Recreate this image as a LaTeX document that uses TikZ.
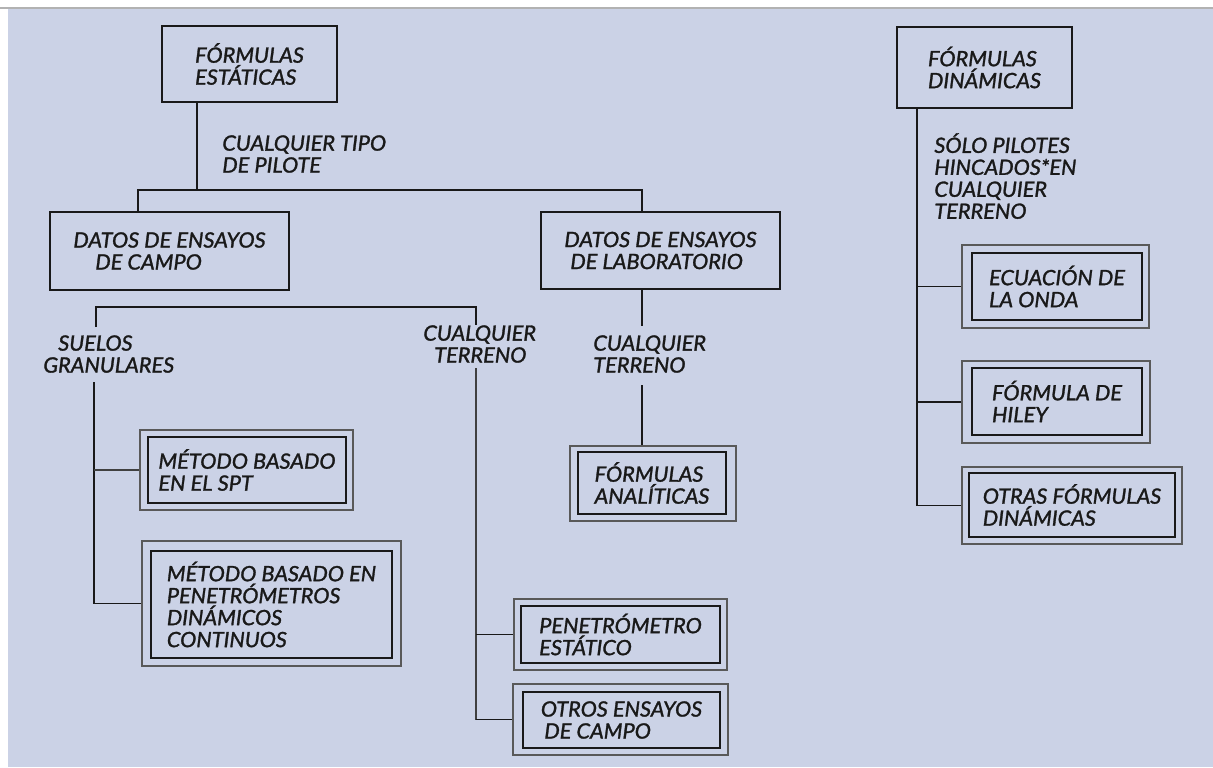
\documentclass[tikz,border=0pt]{standalone}
\usepackage{fontspec}
\setmainfont{Lato}[ItalicFeatures={FakeBold=1.4,FakeStretch=1.03}]
\definecolor{bg}{RGB}{203,210,230}
\def\px{0.02cm}
\newcommand\boxat[7]{\node[#1, minimum width={(#5-#3)*\px}, minimum height={(#6-#4)*\px}] (#2) at ({(#3+#5)/2},{(#4+#6)/2}) {#7};}
\begin{document}
\begin{tikzpicture}[x=0.02cm,y=-0.02cm,
  every node/.style={font=\itshape\fontsize{12}{12.5}\selectfont, align=left, inner sep=0pt, text=black!90},
  sbox/.style={draw=black!90, line width=1.4pt},
  ibox/.style={draw=black!90, line width=1.4pt},
  obox/.style={draw=black!65, line width=0.6pt},
  conn/.style={draw=black!90, line width=1.1pt},
  thinconn/.style={draw=black!75, line width=0.6pt},
  lbl/.style={anchor=north west}]
\useasboundingbox (0,0) rectangle (1213,767);
\fill[white] (0,0) rectangle (1213,767);
\fill[bg] (8,8) rectangle (1213,767);
\draw[black!30, line width=1.2pt] (0,8) -- (1213,8);

% single boxes
\boxat{sbox}{est}{162}{26}{337}{102}{FÓRMULAS\\ESTÁTICAS}
\boxat{sbox}{din}{897}{27}{1072}{108}{FÓRMULAS\\DINÁMICAS}
\boxat{sbox}{campo}{50}{212}{289}{290}{DATOS DE ENSAYOS\\\hspace{12.5pt}DE CAMPO}
\boxat{sbox}{lab}{541}{212}{780}{289}{DATOS DE ENSAYOS\\\hspace{3.4pt}DE LABORATORIO}

% double boxes: outer frames
\boxat{obox}{spto}{140}{430}{353}{510}{}
\boxat{obox}{meto}{142}{541}{401}{666}{}
\boxat{obox}{peno}{514}{599}{727}{670}{}
\boxat{obox}{otro}{513}{684}{728}{755}{}
\boxat{obox}{anao}{570}{446}{736}{521}{}
\boxat{obox}{ecuo}{962}{245}{1149}{328}{}
\boxat{obox}{hilo}{962}{361}{1150}{443}{}
\boxat{obox}{otao}{962}{467}{1182}{544}{}
% double boxes: inner frames with text
\boxat{ibox}{spt}{148}{437}{346}{503}{MÉTODO BASADO\\EN EL SPT}
\boxat{ibox}{met}{151}{551}{392}{658}{MÉTODO BASADO EN\\PENETRÓMETROS\\DINÁMICOS\\CONTINUOS}
\boxat{ibox}{pen}{521}{606}{720}{663}{PENETRÓMETRO\\ESTÁTICO}
\boxat{ibox}{otr}{523}{692}{720}{748}{OTROS ENSAYOS\\\hspace{2pt}DE CAMPO}
\boxat{ibox}{ana}{578}{452}{726}{514}{FÓRMULAS\\ANALÍTICAS}
\boxat{ibox}{ecu}{972}{253}{1142}{320}{ECUACIÓN DE\\LA ONDA}
\boxat{ibox}{hil}{972}{368}{1142}{435}{FÓRMULA DE\\HILEY}
\boxat{ibox}{ota}{969}{473}{1175}{537}{OTRAS FÓRMULAS\\DINÁMICAS}

% labels
\node[lbl] (tipo) at (222,135) {CUALQUIER TIPO\\DE PILOTE};
\node[lbl] (sg) at (43,335) {\hspace{8.5pt}SUELOS\\GRANULARES};
\node[lbl] (ct1) at (423,325) {CUALQUIER\\\hspace{6.2pt}TERRENO};
\node[lbl] (ct2) at (593,335) {CUALQUIER\\TERRENO};
\node[lbl] (solo) at (934,133) {SÓLO PILOTES\\HINCADOS*EN\\CUALQUIER\\TERRENO};

% connectors
\coordinate (j1) at (197,190);
\coordinate (j2) at (138,190);
\coordinate (j3) at (642,190);
\draw[conn] (est.south -| j1) -- (j1);
\draw[conn] (campo.north -| j2) -- (j2) -- (j3) -- (lab.north -| j3);

\coordinate (k1) at (96,327);
\coordinate (k2) at (96,307);
\coordinate (k3) at (476,307);
\coordinate (k4) at (476,325);
\draw[conn] (k1) -- (k2) -- (k3) -- (k4);

\coordinate (l1) at (94,382);
\draw[conn] (l1) |- (meto.west);
\draw[thinconn] (l1 |- spto.west) -- (spto.west);

\coordinate (m1) at (476,368);
\draw[thinconn] (m1) |- (otro.west);
\draw[conn] (m1 |- otro.west) -- (otro.west);
\draw[conn] (m1 |- peno.west) -- (peno.west);

\coordinate (n1) at (642,326);
\coordinate (n2) at (642,385);
\draw[conn] (lab.south -| n1) -- (n1);
\draw[conn] (n2) -- (n2 |- anao.north);

\coordinate (r0) at (917,0);
\draw[conn] (din.south -| r0) |- (otao.west);
\draw[conn] (r0 |- ecuo.west) -- (ecuo.west);
\draw[conn] (r0 |- hilo.west) -- (hilo.west);
\end{tikzpicture}
\end{document}
